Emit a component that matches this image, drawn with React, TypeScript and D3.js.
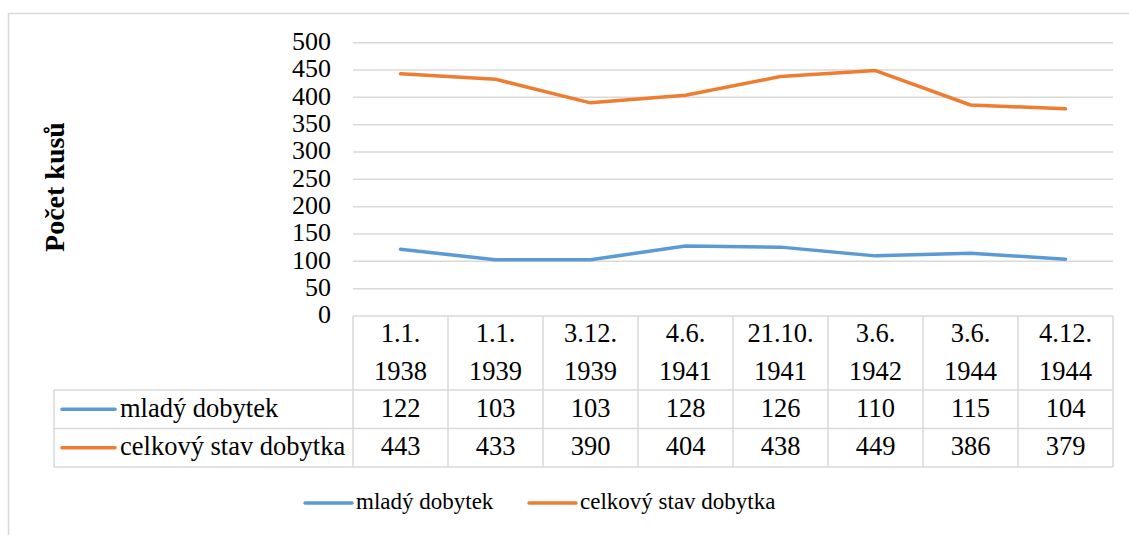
import React from "react";
import * as d3 from "d3";

const categoriesTop = ["1.1.", "1.1.", "3.12.", "4.6.", "21.10.", "3.6.", "3.6.", "4.12."];
const categoriesBottom = ["1938", "1939", "1939", "1941", "1941", "1942", "1944", "1944"];
const seriesNames = ["mladý dobytek", "celkový stav dobytka"];
const mladyDobytek = [122, 103, 103, 128, 126, 110, 115, 104];
const celkovyStav = [443, 433, 390, 404, 438, 449, 386, 379];
const yTicks = [0, 50, 100, 150, 200, 250, 300, 350, 400, 450, 500];
const seriesColors = ["#5b9bd5", "#ed7d31"];

const W = 1129, H = 535;
const plotLeft = 353, plotRight = 1113, plotTop = 42.7, plotBottom = 316;
const row1 = 390, row2 = 428.5, row3 = 467, tableLeft = 54;
const FONT = '"Liberation Serif", Tinos, "DejaVu Serif", "Times New Roman", serif';

export default function App() {
  const idx = categoriesTop.map((_, i) => i);
  const x = d3.scaleBand<number>().domain(idx).range([plotLeft, plotRight]);
  const y = d3.scaleLinear().domain([0, 500]).range([plotBottom, plotTop]);
  const series = [mladyDobytek, celkovyStav];
  const line = d3.line<number>().x((_, i) => x(i)! + x.bandwidth() / 2).y((d) => y(d));
  const grid = "#d9d9d9";
  const colEdges = d3.range(categoriesTop.length + 1).map((k) => plotLeft + k * x.bandwidth());
  const rowMid = [(row1 + row2) / 2, (row2 + row3) / 2];
  const legendItems = [
    { x: 305, name: seriesNames[0], color: seriesColors[0] },
    { x: 529, name: seriesNames[1], color: seriesColors[1] },
  ];
  const ts = { fontFamily: FONT };
  const tableFs = 26.5;
  return (
    <svg width={W} height={H} style={{ position: "absolute", left: 0, top: 0, background: "#fff", fontFamily: FONT }}>
      <rect x={8.5} y={13.5} width={1140} height={600} fill="#fff" stroke={grid} strokeWidth={1.5} />
      {yTicks.map((t) => (
        <g key={t}>
          {t > 0 && <line x1={plotLeft} x2={plotRight} y1={y(t)} y2={y(t)} stroke={grid} strokeWidth={1.5} />}
          <text style={ts} x={331} y={y(t)} dy="0.05em" textAnchor="end" fontSize={26} fill="#000" dominantBaseline="middle">{t}</text>
        </g>
      ))}
      <text style={ts} transform={`translate(58,187) rotate(-90)`} textAnchor="middle" fontSize={28} fontWeight="bold" fill="#000" dominantBaseline="middle">Počet kusů</text>
      <line x1={plotLeft} x2={plotRight} y1={plotBottom} y2={plotBottom} stroke={grid} strokeWidth={1.5} />
      {[row1, row2, row3].map((r) => (
        <line key={r} x1={tableLeft} x2={plotRight} y1={r} y2={r} stroke={grid} strokeWidth={1.5} />
      ))}
      {colEdges.map((cx) => (
        <line key={cx} x1={cx} x2={cx} y1={plotBottom} y2={row3} stroke={grid} strokeWidth={1.5} />
      ))}
      <line x1={tableLeft} x2={tableLeft} y1={row1} y2={row3} stroke={grid} strokeWidth={1.5} />
      {idx.map((i) => {
        const cx = x(i)! + x.bandwidth() / 2;
        return (
          <g key={i} fontSize={tableFs} fill="#000" textAnchor="middle">
            <text style={ts} x={cx} y={335} dominantBaseline="middle" dy="0.05em">{categoriesTop[i]}</text>
            <text style={ts} x={cx} y={373} dominantBaseline="middle" dy="0.05em">{categoriesBottom[i]}</text>
            {series.map((s, k) => (
              <text style={ts} key={k} x={cx} y={rowMid[k]} dominantBaseline="middle" dy="0.05em">{s[i]}</text>
            ))}
          </g>
        );
      })}
      {seriesNames.map((n, k) => (
        <g key={n}>
          <line x1={62} x2={115} y1={rowMid[k]} y2={rowMid[k]} stroke={seriesColors[k]} strokeWidth={3.5} strokeLinecap="round" />
          <text style={ts} x={120} y={rowMid[k]} dominantBaseline="middle" dy="0.05em" fontSize={tableFs} fill="#000">{n}</text>
        </g>
      ))}
      {series.map((s, k) => (
        <path key={k} d={line(s)!} fill="none" stroke={seriesColors[k]} strokeWidth={3.5} strokeLinecap="round" strokeLinejoin="round" />
      ))}
      {legendItems.map((l) => (
        <g key={l.name}>
          <line x1={l.x} x2={l.x + 47} y1={503} y2={503} stroke={l.color} strokeWidth={3.5} strokeLinecap="round" />
          <text style={ts} x={l.x + 51} y={503} dominantBaseline="middle" dy="0.05em" fontSize={23} fill="#000">{l.name}</text>
        </g>
      ))}
    </svg>
  );
}
